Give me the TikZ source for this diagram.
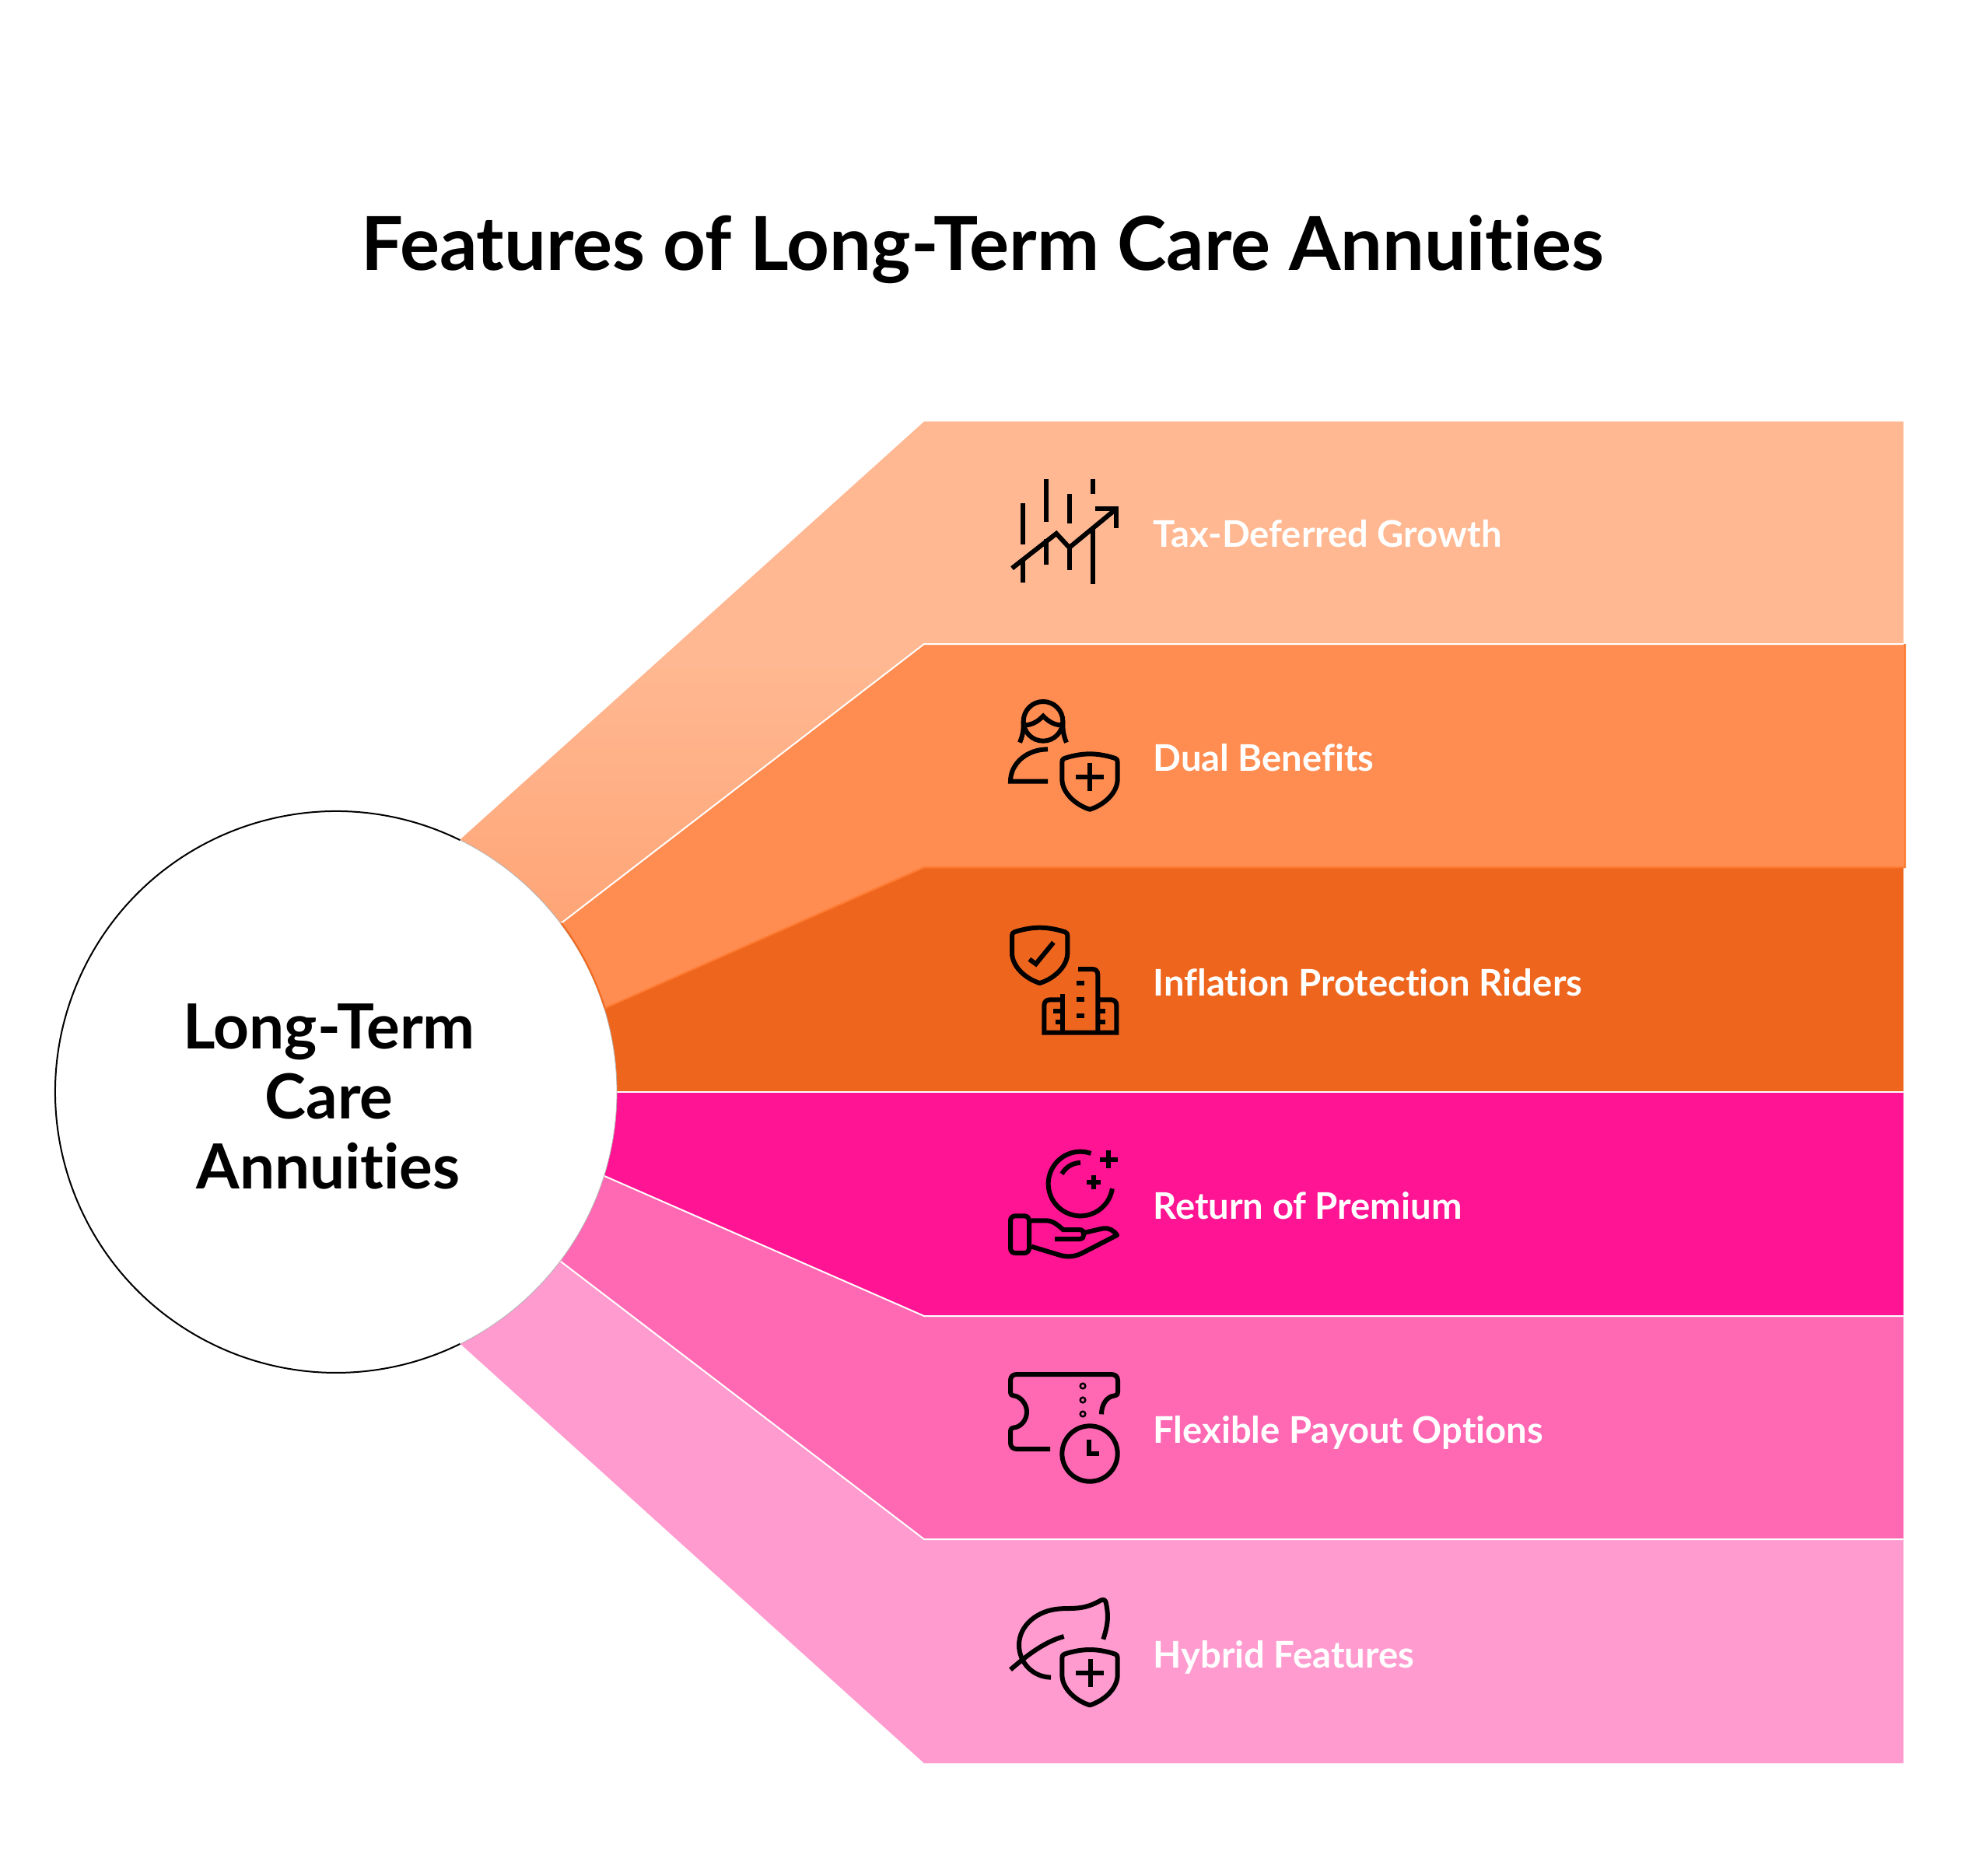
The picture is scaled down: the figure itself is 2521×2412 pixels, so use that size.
\documentclass[tikz,border=0pt]{standalone}
\usepackage{fontspec}
\setmainfont{Lato}[BoldFont=Lato Bold,Ligatures=NoCommon]
\definecolor{bandA}{RGB}{255,184,145}
\definecolor{bandAlow}{RGB}{255,165,119}
\definecolor{bandB}{RGB}{255,140,80}
\definecolor{bandC}{RGB}{238,102,30}
\definecolor{bandD}{RGB}{255,20,147}
\definecolor{bandE}{RGB}{255,105,180}
\definecolor{bandF}{RGB}{255,155,207}
\definecolor{edgeB}{RGB}{255,122,48}
\definecolor{edgeHub}{RGB}{240,105,30}
\pgfdeclareverticalshading{bandAshade}{100bp}{color(0bp)=(bandAlow); color(25bp)=(bandAlow); color(51bp)=(bandA); color(100bp)=(bandA)}
\tikzset{
  x=.5pt,y=-.5pt,
  band/.style={line width=1pt},
  ico/.style={draw=black,line width=3pt,line cap=butt,line join=miter,fill=none},
  lab/.style={anchor=base west,inner sep=0pt,text=white,font=\fontsize{23.6pt}{26pt}\selectfont\bfseries},
  hubtxt/.style={anchor=base,inner sep=0pt,font=\fontsize{40pt}{45pt}\selectfont\bfseries},
  shieldicon/.pic={
    \draw[ico,line join=round] (0,0) .. controls (-33,0) and (-68,7) .. (-98,17) .. controls (-105,20) and (-107,24) .. (-107,32)
      -- (-107,97) .. controls (-107,150) and (-55,197) .. (0,214) .. controls (55,197) and (107,150) .. (107,97) -- (107,32)
      .. controls (107,24) and (105,20) .. (98,17) .. controls (68,7) and (33,0) .. (0,0) -- cycle;
  },
  zoomed/.style={x=.16667pt,y=-.16667pt},
}
\begin{document}
\begin{tikzpicture}
\useasboundingbox (0,0) rectangle (2521,2412);
% bands
\shade[shading=bandAshade] (592,1079) -- (1188,542) -- (2447,542) -- (2447,828) -- (1188,828) -- (720,1188) -- cycle;
\fill[bandC] (776,1297) -- (1188,1116) -- (2447,1116) -- (2447,1404) -- (793,1404) -- cycle;
\fill[bandB] (720,1188) -- (1188,828) -- (2449,828) -- (2449,1116) -- (1188,1116) -- (776,1297) -- cycle;
\draw[edgeB,line width=1pt] (776,1297) -- (1188,1115) -- (2449,1115) -- (2449,828);
\fill[bandD] (793,1404) -- (2447,1404) -- (2447,1692) -- (1188,1692) -- (777,1512) -- cycle;
\fill[bandE] (777,1512) -- (1188,1692) -- (2447,1692) -- (2447,1979) -- (1188,1979) -- (721,1622) -- cycle;
\fill[bandF] (721,1622) -- (1188,1979) -- (2447,1979) -- (2447,2267) -- (1188,2267) -- (592,1728) -- cycle;
\draw[white,band] (720,1188) -- (1188,828) -- (2447,828);
\draw[white,band] (793,1404) -- (2447,1404);
\draw[white,band] (777,1512) -- (1188,1692) -- (2447,1692);
\draw[white,band] (721,1622) -- (1188,1979) -- (2447,1979);
% hub
\node[circle,fill=white,draw=black!30,line width=.4pt,minimum size=361pt,inner sep=0pt] (hub) at (432,1404) {};
\draw[black,line width=1pt] (432,1404) ++(-63.8:361) arc[start angle=-63.8,end angle=-296.2,radius=361];
\draw[edgeHub,line width=1pt] (432,1404) ++(-36.9:362) arc[start angle=-36.9,end angle=-17.3,radius=362];
\node[hubtxt] (hubA) at (423,1348) {Long-Term};
\node[hubtxt] (hubB) at (423,1438) {Care};
\node[hubtxt] (hubC) at (422,1528) {Annuities};
\node[anchor=base,inner sep=0pt,font=\fontsize{47.8pt}{52pt}\selectfont\bfseries] (title) at (1263,348) {Features of Long-Term Care Annuities};
% labels
\node[lab] (l1) at (1482,703) {Tax-Deferred Growth};
\node[lab] (l2) at (1482,991) {Dual Benefits};
\node[lab] (l3) at (1482,1280) {Inflation Protection Riders};
\node[lab] (l4) at (1482,1567) {Return of Premium};
\node[lab] (l5) at (1482,1855) {Flexible Payout Options};
\node[lab] (l6) at (1482,2144) {Hybrid Features};
% icon 1
\begin{scope}[shift={(1250,580)},zoomed]
\draw[ico] (196,201)--(196,360) (286,109)--(286,272) (376,165)--(376,280) (466,109)--(466,165);
\draw[ico] (196,420)--(196,506) (286,340)--(286,438) (376,375)--(376,460) (466,300)--(466,514);
\draw[ico] (153,452)--(324,318)--(374,372)--(556,222);
\draw[ico] (475,222)--(556,222)--(556,298);
\end{scope}
% icon 2
\begin{scope}[shift={(1250,870)},zoomed]
\draw[ico] (273,172) circle[radius=76];
\draw[ico] (183,254) .. controls (195,225) and (198,205) .. (197,172);
\draw[ico] (363,254) .. controls (351,225) and (348,205) .. (349,172);
\draw[ico] (205,187) .. controls (235,185) and (255,170) .. (273,152) .. controls (291,170) and (311,185) .. (341,187);
\draw[ico] (291,280) .. controls (210,280) and (147,335) .. (147,404) -- (291,404);
\pic at (453,298) {shieldicon};
\draw[ico] (399,387)--(507,387) (453,333)--(453,441);
\end{scope}
% icon 3
\begin{scope}[shift={(1250,1160)},zoomed]
\pic at (260,98) {shieldicon};
\draw[ico] (220,220)--(245,238)--(313,155);
\draw[ico] (408,258)--(462,258) .. controls (476,258) and (484,266) .. (484,280) -- (484,503);
\draw[ico] (349,354)--(349,503);
\draw[ico] (349,376)--(300,376) .. controls (286,376) and (277,384) .. (277,398) -- (277,503) -- (556,503) -- (556,398) .. controls (556,384) and (547,376) .. (534,376) -- (484,376);
\draw[ico] (402,313)--(432,313) (402,376)--(432,376) (402,439)--(432,439);
\draw[ico] (313,420)--(349,420) (320,461)--(349,461) (484,420)--(513,420) (484,461)--(513,461);
\end{scope}
% icon 4
\begin{scope}[shift={(1250,1450)},zoomed]
\draw[ico] (417,216) ++(-71:124) arc[start angle=-71,end angle=-351.3,radius=124];
\draw[ico] (417,216) ++(-152:81) arc[start angle=-152,end angle=-90,radius=81];
\draw[ico] (492,122)--(560,122) (526,88)--(526,156);
\draw[ico] (442,209)--(496,209) (469,182)--(469,236);
\draw[ico,rounded corners=3pt] (147,340) rectangle (219,483);
\draw[ico] (228,358) -- (285,358) .. controls (310,358) and (330,375) .. (350,393) -- (412,393) .. controls (426,393) and (430,402) .. (430,411) .. controls (430,420) and (426,429) .. (412,429) -- (318,429);
\draw[ico,line join=round] (430,405) -- (505,388) .. controls (525,385) and (545,395) .. (558,414) -- (430,480) .. controls (400,497) and (370,500) .. (340,492) -- (228,458);
\end{scope}
% icon 5
\begin{scope}[shift={(1250,1740)},zoomed]
\draw[ico,line join=round] (300,369) -- (172,369) .. controls (156,369) and (147,360) .. (147,345) -- (147,300) .. controls (147,292) and (150,288) .. (158,287)
  .. controls (185,285) and (210,260) .. (210,225) .. controls (210,195) and (185,165) .. (158,163) .. controls (150,162) and (147,158) .. (147,150)
  -- (147,105) .. controls (147,90) and (156,81) .. (172,81) -- (535,81) .. controls (552,81) and (561,90) .. (561,105) -- (561,150) .. controls (561,158) and (558,162) .. (550,163)
  .. controls (520,165) and (498,195) .. (498,235);
\draw[ico,line width=1.2pt] (426,126) circle[radius=10] (426,180) circle[radius=10] (426,234) circle[radius=10];
\draw[ico] (453,387) circle[radius=107];
\draw[ico] (451,333)--(451,388)--(489,388);
\end{scope}
% icon 6
\begin{scope}[shift={(1250,2030)},zoomed]
\draw[ico,line join=round] (303,380) .. controls (230,378) and (180,320) .. (180,255) .. controls (180,180) and (250,120) .. (340,115) .. controls (390,112) and (430,120) .. (495,83) .. controls (508,75) and (515,85) .. (516,95) .. controls (525,140) and (525,170) .. (505,233);
\draw[ico] (147,350) .. controls (200,305) and (270,245) .. (353,222);
\pic at (453,273) {shieldicon};
\draw[ico] (399,363)--(507,363) (457,309)--(457,417);
\end{scope}
\end{tikzpicture}
\end{document}
